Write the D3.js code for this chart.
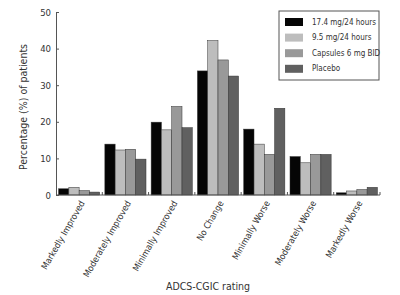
<!DOCTYPE html>
<html>
<head>
<meta charset="utf-8">
<script src="https://cdn.jsdelivr.net/npm/d3@7"></script>
<style>
  body { margin: 0; background: #fff; }
  text { font-family: "Liberation Sans Narrow", "DejaVu Sans Condensed", "Liberation Sans", sans-serif; fill: #333; }
</style>
</head>
<body>
<div id="canvas"></div>
<script>
"use strict";

/* Drawing size */
let svgWidth = 400;
let svgHeight = 295;

/* Data */
let ratings = ["Markedly Improved", "Moderately Improved", "Minimally Improved",
  "No Change", "Minimally Worse", "Moderately Worse", "Markedly Worse"];
let seriesNames = ["17.4 mg/24 hours", "9.5 mg/24 hours", "Capsules 6 mg BID", "Placebo"];
let dose174 = [1.7, 13.9, 19.9, 33.9, 18.0, 10.5, 0.6];
let dose95 = [2.1, 12.3, 17.8, 42.2, 13.9, 8.8, 1.1];
let capsules6 = [1.2, 12.5, 24.2, 36.9, 11.1, 11.1, 1.5];
let placebo = [0.8, 9.8, 18.4, 32.5, 23.7, 11.1, 2.1];
let yTicks = [0, 10, 20, 30, 40, 50];

let seriesValues = [dose174, dose95, capsules6, placebo];
let colors = ["#050505", "#bdbdbd", "#999999", "#606060"];

let svg = d3.select("#canvas")
  .append("svg")
  .attr("width", svgWidth)
  .attr("height", svgHeight);

/* Scales */
let x0 = d3.scaleBand()
  .domain(ratings)
  .range([56, 380])
  .paddingInner(0)
  .paddingOuter(0);

let x1 = d3.scaleBand()
  .domain(seriesNames)
  .range([0, x0.bandwidth()])
  .paddingOuter(0.25);

let yScale = d3.scaleLinear()
  .domain([0, 50])
  .range([195, 12]);

/* Bars */
let groups = svg.selectAll("g.group")
  .data(ratings)
  .enter()
  .append("g")
  .attr("class", "group")
  .attr("transform", d => "translate(" + x0(d) + ",0)");

groups.selectAll("rect")
  .data((d, i) => seriesNames.map((s, j) => ({ s: s, v: seriesValues[j][i], c: colors[j] })))
  .enter()
  .append("rect")
  .attr("x", d => x1(d.s))
  .attr("y", d => yScale(d.v))
  .attr("width", x1.bandwidth())
  .attr("height", d => yScale(0) - yScale(d.v))
  .attr("fill", d => d.c)
  .attr("stroke", "#333")
  .attr("stroke-width", 0.5);

/* Y axis */
let yAxis = svg.append("g")
  .attr("transform", "translate(56,0)")
  .call(d3.axisLeft(yScale).tickValues(yTicks).tickSizeInner(-3).tickSizeOuter(0).tickPadding(5));
yAxis.select(".domain").attr("stroke", "#555");
yAxis.selectAll(".tick line").attr("stroke", "#555");
yAxis.selectAll("text").attr("font-size", "9.5px").attr("fill", "#333");

/* X axis: ticks at group boundaries */
svg.append("line")
  .attr("x1", 56).attr("x2", 380)
  .attr("y1", yScale(0)).attr("y2", yScale(0))
  .attr("stroke", "#555");

ratings.forEach(r => {
  svg.append("line")
    .attr("x1", x0(r) + x0.bandwidth()).attr("x2", x0(r) + x0.bandwidth())
    .attr("y1", yScale(0)).attr("y2", yScale(0) - 3)
    .attr("stroke", "#555");

  let cx = x0(r) + x0.bandwidth() / 2 + 6;
  svg.append("text")
    .attr("transform", "translate(" + cx + "," + 203 + ") rotate(-60)")
    .attr("text-anchor", "end")
    .attr("font-size", "9px")
    .text(r);
});

/* Axis titles */
svg.append("text")
  .attr("x", 208)
  .attr("y", 290)
  .attr("text-anchor", "middle")
  .attr("font-size", "10.5px")
  .text("ADCS-CGIC rating");

svg.append("text")
  .attr("transform", "translate(27,107) rotate(-90)")
  .attr("text-anchor", "middle")
  .attr("font-size", "10.5px")
  .text("Percentage (%) of patients");

/* Legend */
let legend = svg.append("g");
legend.append("rect")
  .attr("x", 279).attr("y", 11)
  .attr("width", 100).attr("height", 69)
  .attr("fill", "#fff")
  .attr("stroke", "#555");

seriesNames.forEach((s, i) => {
  let yPos = 22 + i * 15.6;
  legend.append("rect")
    .attr("x", 285).attr("y", yPos - 4)
    .attr("width", 18).attr("height", 8)
    .attr("fill", colors[i]);
  legend.append("text")
    .attr("x", 312).attr("y", yPos)
    .attr("dominant-baseline", "middle")
    .attr("font-size", "8px")
    .text(s);
});
</script>
</body>
</html>
